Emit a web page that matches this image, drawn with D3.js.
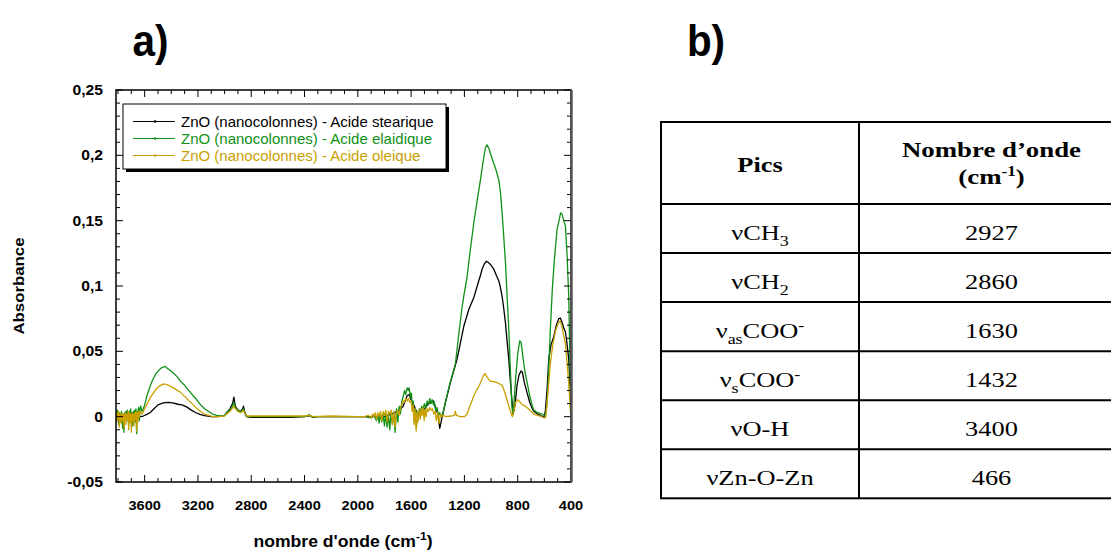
<!DOCTYPE html>
<html><head><meta charset="utf-8">
<script src="https://cdn.jsdelivr.net/npm/d3@7"></script>
<style>body{margin:0;background:#fff}svg{display:block}</style>
</head><body>
<svg id="c" width="1111" height="550"></svg>
<script>
// ---------- DATA ----------
const seriesNames = ["ZnO (nanocolonnes) - Acide stearique","ZnO (nanocolonnes) - Acide elaidique","ZnO (nanocolonnes) - Acide oleique"];
const seriesColors = ["#000000","#109018","#C9A000"];

const stearic = [[3815,0.001],[3780,0.0],[3750,0.001],[3720,0.0],[3690,0.0005],[3660,0.0],[3630,0.0],[3610,0.0005],[3580,0.002],[3560,0.003],[3530,0.006],[3500,0.009],[3460,0.0105],[3423,0.011],[3390,0.0105],[3350,0.0095],[3320,0.009],[3285,0.0075],[3250,0.005],[3215,0.003],[3185,0.0018],[3150,0.0008],[3100,0.0],[3050,0.0],[3000,0.001],[2985,0.003],[2960,0.006],[2940,0.01],[2930,0.015],[2920,0.008],[2900,0.005],[2880,0.004],[2865,0.006],[2858,0.008],[2850,0.004],[2835,0.0],[2800,-0.0005],[2700,-0.0005],[2600,-0.0005],[2500,-0.0005],[2400,0.0],[2360,0.0008],[2340,-0.0005],[2300,0.0],[2200,0.0],[2100,0.0],[2000,0.0],[1900,0.0],[1800,0.0],[1750,0.002],[1700,0.004],[1660,0.008],[1630,0.016],[1615,0.017],[1600,0.013],[1580,0.009],[1560,0.004],[1540,0.001],[1520,0.003],[1500,0.006],[1470,0.01],[1450,0.011],[1432,0.012],[1420,0.008],[1400,0.002],[1385,-0.009],[1375,-0.004],[1360,0.003],[1340,0.012],[1305,0.026],[1255,0.044],[1205,0.069],[1167,0.082],[1155,0.085],[1130,0.091],[1104,0.1],[1080,0.108],[1067,0.113],[1050,0.117],[1035,0.119],[1020,0.118],[1000,0.116],[980,0.113],[960,0.108],[942,0.104],[930,0.099],[917,0.092],[905,0.083],[892,0.072],[880,0.058],[867,0.044],[855,0.027],[842,0.011],[835,0.0015],[825,0.006],[815,0.014],[805,0.024],[790,0.032],[775,0.035],[765,0.034],[750,0.026],[729,0.018],[710,0.011],[690,0.006],[679,0.004],[650,0.002],[620,0.0005],[600,0.0],[592,0.005],[580,0.02],[567,0.044],[550,0.055],[530,0.061],[510,0.07],[492,0.075],[480,0.0755],[470,0.073],[455,0.068],[442,0.065],[430,0.056],[417,0.044],[410,0.03],[404,0.018],[401,0.0]];

const elaidic = [[3815,0.004],[3810,-0.003],[3805,0.005],[3800,0.002],[3795,-0.006],[3790,0.003],[3785,0.001],[3780,-0.004],[3775,0.004],[3770,0.0],[3765,-0.009],[3760,0.002],[3755,-0.012],[3750,0.003],[3745,0.0],[3740,0.004],[3735,-0.003],[3730,0.005],[3725,0.001],[3720,-0.006],[3715,0.004],[3710,0.002],[3705,0.006],[3700,-0.002],[3695,0.003],[3690,-0.007],[3685,0.004],[3680,0.001],[3675,0.005],[3670,-0.004],[3665,0.006],[3660,-0.013],[3655,0.004],[3650,0.002],[3645,0.007],[3640,-0.003],[3635,0.006],[3630,0.008],[3620,0.004],[3610,0.006],[3600,0.009],[3590,0.013],[3580,0.017],[3570,0.02],[3560,0.023],[3545,0.027],[3530,0.03],[3515,0.033],[3497,0.035],[3480,0.037],[3460,0.038],[3445,0.0385],[3430,0.037],[3410,0.0355],[3390,0.034],[3360,0.031],[3330,0.027],[3300,0.024],[3285,0.022],[3260,0.019],[3235,0.016],[3210,0.013],[3180,0.009],[3150,0.006],[3120,0.004],[3090,0.002],[3060,0.001],[3030,0.0005],[3000,0.001],[2985,0.003],[2960,0.005],[2945,0.007],[2930,0.011],[2920,0.007],[2900,0.005],[2880,0.004],[2865,0.005],[2858,0.006],[2850,0.003],[2835,0.0],[2800,0.0],[2700,0.0],[2600,0.0],[2500,0.0],[2400,0.0],[2375,0.001],[2365,0.0015],[2350,0.0005],[2330,-0.0005],[2300,0.0],[2200,0.0],[2100,0.0],[2000,0.0],[1950,0.0],[1900,-0.001],[1880,0.001],[1860,-0.003],[1850,0.001],[1840,-0.005],[1830,0.002],[1820,-0.004],[1810,0.002],[1800,-0.007],[1790,0.002],[1780,-0.008],[1770,0.001],[1760,-0.01],[1750,0.003],[1740,-0.006],[1730,0.004],[1720,-0.012],[1710,0.006],[1700,-0.004],[1690,0.008],[1680,0.002],[1670,0.012],[1660,0.015],[1650,0.02],[1640,0.017],[1630,0.022],[1620,0.02],[1615,0.022],[1605,0.015],[1598,0.018],[1590,0.006],[1585,0.012],[1575,-0.004],[1568,0.006],[1560,-0.008],[1552,0.004],[1545,0.0],[1538,0.006],[1530,0.004],[1520,0.008],[1510,0.006],[1500,0.01],[1490,0.006],[1480,0.012],[1470,0.009],[1460,0.014],[1450,0.01],[1442,0.013],[1432,0.009],[1425,0.011],[1415,0.004],[1405,0.007],[1395,0.001],[1385,0.003],[1375,0.0],[1360,0.003],[1340,0.012],[1310,0.025],[1285,0.034],[1267,0.041],[1240,0.065],[1220,0.082],[1205,0.092],[1180,0.107],[1160,0.124],[1130,0.148],[1105,0.165],[1080,0.181],[1060,0.195],[1042,0.206],[1030,0.208],[1015,0.205],[1000,0.2],[980,0.194],[960,0.188],[942,0.181],[930,0.172],[917,0.156],[905,0.138],[892,0.118],[880,0.093],[867,0.067],[855,0.036],[845,0.01],[838,0.002],[830,0.008],[815,0.03],[800,0.048],[785,0.058],[775,0.057],[760,0.045],[745,0.034],[729,0.026],[710,0.016],[690,0.008],[679,0.005],[650,0.003],[617,0.002],[600,0.001],[592,0.0],[580,0.01],[570,0.03],[555,0.067],[540,0.098],[525,0.12],[505,0.143],[490,0.15],[478,0.156],[467,0.155],[455,0.15],[442,0.146],[430,0.125],[417,0.092],[410,0.055],[404,0.011],[401,0.0]];

const oleic = [[3815,0.002],[3810,-0.004],[3805,0.003],[3800,-0.002],[3795,0.004],[3790,-0.008],[3785,0.002],[3780,0.0],[3775,-0.005],[3770,0.003],[3765,-0.003],[3760,0.002],[3755,-0.009],[3750,0.001],[3745,0.003],[3740,-0.006],[3735,0.002],[3730,-0.002],[3725,0.004],[3720,-0.01],[3715,0.003],[3710,-0.004],[3705,0.002],[3700,-0.012],[3695,0.003],[3690,-0.003],[3685,0.002],[3680,-0.007],[3675,0.003],[3670,-0.002],[3665,0.004],[3660,-0.011],[3655,0.003],[3650,-0.004],[3645,0.004],[3640,0.0],[3635,0.004],[3620,0.002],[3610,0.004],[3600,0.006],[3585,0.009],[3570,0.012],[3555,0.015],[3535,0.018],[3515,0.021],[3495,0.023],[3470,0.0245],[3450,0.025],[3435,0.0245],[3410,0.0235],[3385,0.022],[3360,0.0205],[3335,0.019],[3310,0.0165],[3285,0.014],[3260,0.0115],[3235,0.009],[3210,0.0065],[3180,0.004],[3150,0.002],[3120,0.001],[3090,0.0],[3050,0.0],[3000,0.0005],[2985,0.002],[2960,0.004],[2945,0.006],[2930,0.008],[2920,0.006],[2900,0.004],[2880,0.003],[2865,0.004],[2858,0.005],[2850,0.003],[2835,0.0005],[2800,0.0005],[2600,0.0005],[2400,0.0005],[2360,0.001],[2340,0.0],[2200,0.0005],[2000,0.0],[1950,0.0],[1920,0.001],[1900,-0.001],[1890,0.002],[1880,0.0],[1870,0.003],[1860,-0.002],[1850,0.003],[1840,0.0],[1830,0.004],[1820,-0.003],[1810,0.004],[1800,0.001],[1790,0.005],[1780,-0.004],[1770,0.004],[1760,0.002],[1750,0.005],[1740,-0.006],[1730,0.004],[1720,-0.008],[1710,0.003],[1700,0.005],[1690,0.001],[1680,0.007],[1670,0.009],[1660,0.012],[1650,0.011],[1640,0.014],[1630,0.012],[1620,0.014],[1610,0.011],[1600,0.012],[1592,0.004],[1585,0.009],[1578,-0.006],[1570,0.006],[1562,-0.011],[1555,0.004],[1548,-0.004],[1540,0.005],[1532,-0.002],[1525,0.006],[1518,0.001],[1510,0.007],[1502,-0.003],[1495,0.006],[1488,0.0],[1480,0.006],[1470,0.004],[1460,0.007],[1450,0.005],[1440,0.006],[1430,0.002],[1420,0.004],[1410,-0.003],[1400,0.003],[1390,-0.005],[1380,0.002],[1370,0.0],[1360,0.001],[1340,0.0],[1300,0.0005],[1275,0.001],[1268,0.004],[1260,0.001],[1230,0.0],[1200,0.0],[1180,0.002],[1160,0.008],[1140,0.013],[1130,0.016],[1110,0.02],[1092,0.023],[1075,0.027],[1060,0.031],[1045,0.033],[1035,0.031],[1020,0.029],[1005,0.027],[985,0.027],[955,0.026],[935,0.025],[917,0.024],[905,0.021],[892,0.017],[875,0.011],[855,0.004],[840,0.0],[830,0.004],[815,0.011],[800,0.013],[790,0.012],[765,0.009],[742,0.008],[720,0.006],[700,0.004],[680,0.002],[650,0.001],[620,0.0],[600,-0.001],[592,-0.001],[585,0.005],[570,0.022],[555,0.041],[535,0.056],[515,0.066],[495,0.072],[480,0.073],[470,0.07],[455,0.062],[442,0.056],[430,0.042],[417,0.025],[410,0.014],[404,0.003],[401,0.0]];

const xMajorTicks = [3600,3200,2800,2400,2000,1600,1200,800,400];
const yMajorTicks = [-0.05,0,0.05,0.1,0.15,0.2,0.25];
const yTickLabels = ["-0,05","0","0,05","0,1","0,15","0,2","0,25"];

const tablePeaks = [["ν","CH","3",""],["ν","CH","2",""],["ν","COO","as","-"],["ν","COO","s","-"],["ν","O-H","",""],["ν","Zn-O-Zn","",""]];
const tableValues = ["2927","2860","1630","1432","3400","466"];

// ---------- DRAW ----------
const svg = d3.select("#c");
const L=116, R=571, T=90, B=482;
const x = d3.scaleLinear().domain([3815,400]).range([L,R]);
const y = d3.scaleLinear().domain([-0.05,0.25]).range([B,T]);
const sans = "'Liberation Sans', Arial, sans-serif";
const serif = "'Liberation Serif', 'Times New Roman', serif";

function txt(g, px, py, str, o){
  const t = g.append("text")
    .attr("transform", `translate(${px},${py})${o.rot?` rotate(${o.rot})`:""} scale(${o.sx||1},1)`)
    .attr("text-anchor", o.anchor||"middle")
    .attr("font-family", o.family||sans)
    .attr("font-size", o.size||13)
    .attr("font-weight", o.weight||"normal")
    .attr("fill", o.fill||"#000");
  if (str!==null) t.text(str);
  return t;
}

// panel letters
txt(svg, 150.5, 56, "a)", {size:44, weight:"bold", sx:0.92});
txt(svg, 706, 56, "b)", {size:44, weight:"bold", sx:0.92});

// series lines
const line = d3.line().x(d=>x(d[0])).y(d=>y(d[1]));
const plot = svg.append("g");
plot.append("clipPath").attr("id","clip").append("rect").attr("x",L).attr("y",T).attr("width",R-L).attr("height",B-T);
const lines = plot.append("g").attr("clip-path","url(#clip)");
[stearic, elaidic, oleic].forEach((s,i)=>{
  lines.append("path").datum(s).attr("d",line).attr("fill","none")
    .attr("stroke",seriesColors[i]).attr("stroke-width",1.3).attr("stroke-linejoin","round");
});

// axes with inward ticks
const xMinor = d3.range(3800, 399, -100);
const yMinor = d3.range(-5, 26).map(v=>v/100);
const ax = svg.append("g").attr("stroke","#000").attr("stroke-width",1);
xMinor.forEach(v=>{
  const big = xMajorTicks.includes(v);
  const len = big?7:4;
  ax.append("line").attr("x1",x(v)).attr("x2",x(v)).attr("y1",B).attr("y2",B-len);
  ax.append("line").attr("x1",x(v)).attr("x2",x(v)).attr("y1",T).attr("y2",T+len);
});
yMinor.forEach(v=>{
  const big = Math.abs(Math.round(v*100)%5)===0;
  const len = big?7:4;
  ax.append("line").attr("x1",L).attr("x2",L+len).attr("y1",y(v)).attr("y2",y(v));
  ax.append("line").attr("x1",R).attr("x2",R-len).attr("y1",y(v)).attr("y2",y(v));
});
svg.append("rect").attr("x",L).attr("y",T).attr("width",R-L).attr("height",B-T)
  .attr("fill","none").attr("stroke","#000").attr("stroke-width",1.5);
svg.append("line").attr("x1",R+0.5).attr("x2",R+0.5).attr("y1",T).attr("y2",B)
  .attr("stroke","#555").attr("stroke-width",2.5);

// tick labels
xMajorTicks.forEach(v=>txt(svg, x(v), 510, String(v), {size:13.5, weight:"bold", sx:1.08}));
yMajorTicks.forEach((v,i)=>txt(svg, 103, y(v)+5, yTickLabels[i], {size:14, weight:"bold", anchor:"end", sx:1.12}));

// axis titles
const xt = txt(svg, 343, 547, null, {size:16, weight:"bold", sx:1.1});
xt.append("tspan").text("nombre d'onde (cm");
xt.append("tspan").attr("dy",-7).attr("font-size",11).text("-1");
xt.append("tspan").attr("dy",7).text(")");
txt(svg, 24, 286, "Absorbance", {size:14, weight:"bold", rot:-90, sx:1.2});

// legend
const lg = svg.append("g");
lg.append("rect").attr("x",126).attr("y",107).attr("width",323).attr("height",65).attr("fill","#000");
lg.append("rect").attr("x",123).attr("y",104).attr("width",323).attr("height",65).attr("fill","#fff").attr("stroke","#000").attr("stroke-width",1);
seriesNames.forEach((n,i)=>{
  const yy = 121.5 + i*17;
  lg.append("line").attr("x1",133).attr("x2",175).attr("y1",yy).attr("y2",yy).attr("stroke",seriesColors[i]).attr("stroke-width",1.2);
  lg.append("circle").attr("cx",155).attr("cy",yy).attr("r",1.3).attr("fill",seriesColors[i]);
  txt(lg, 181, yy+5, n, {size:15, anchor:"start", fill:seriesColors[i]});
});

// table
const tL=661, tM=859, tR=1124, tTop=122, hBot=204, rowH=49.05;
const tb = svg.append("g");
const nRows = tableValues.length;
const tBot = hBot + nRows*rowH;
tb.append("rect").attr("x",tL).attr("y",tTop).attr("width",tR-tL).attr("height",tBot-tTop).attr("fill","none").attr("stroke","#000").attr("stroke-width",2);
tb.append("line").attr("x1",tM).attr("x2",tM).attr("y1",tTop).attr("y2",tBot).attr("stroke","#000").attr("stroke-width",2);
for(let i=0;i<nRows;i++){
  const yy = hBot + i*rowH;
  tb.append("line").attr("x1",tL).attr("x2",tR).attr("y1",yy).attr("y2",yy).attr("stroke","#000").attr("stroke-width",2);
}
const c1 = (tL+tM)/2, c2 = (tM+tR)/2;
txt(tb, c1, 172, "Pics", {family:serif, size:22, weight:"bold", sx:1.2});
txt(tb, c2, 157, "Nombre d\u2019onde", {family:serif, size:22, weight:"bold", sx:1.22});
const h2 = txt(tb, c2, 184, null, {family:serif, size:22, weight:"bold", sx:1.22});
h2.append("tspan").text("(cm");
h2.append("tspan").attr("dy",-8).attr("font-size",14).text("-1");
h2.append("tspan").attr("dy",8).text(")");
tablePeaks.forEach((p,i)=>{
  const by = hBot + i*rowH + rowH/2 + 11;
  const t = txt(tb, c1, by, null, {family:serif, size:22, sx:1.2});
  t.append("tspan").text(p[0]);
  if (p[2] && p[3]) {
    t.append("tspan").attr("dy",6).attr("font-size",15).text(p[2]);
    t.append("tspan").attr("dy",-6).text(p[1]);
    t.append("tspan").attr("dy",-8).attr("font-size",15).text(p[3]);
  } else {
    t.append("tspan").text(p[1]);
    if (p[2]) t.append("tspan").attr("dy",6).attr("font-size",15).text(p[2]);
  }
  txt(tb, c2, by, tableValues[i], {family:serif, size:22, sx:1.2});
});
</script>
</body></html>
